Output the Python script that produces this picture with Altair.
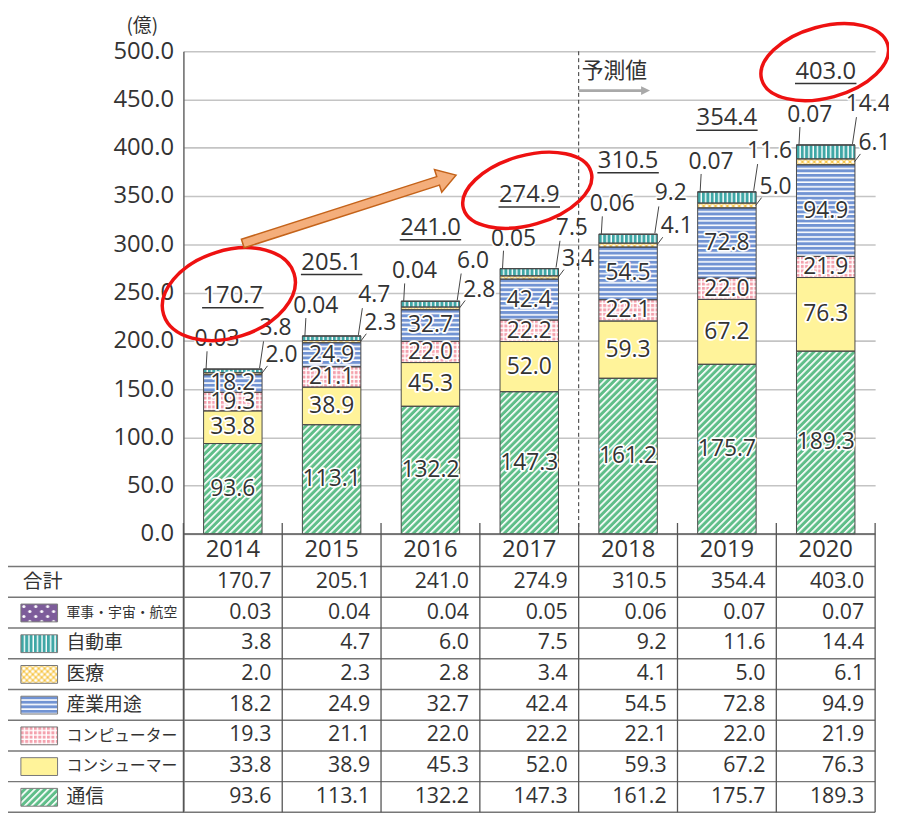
import base64
import altair as alt
import pandas as pd

# ---------------- data ----------------
years = ["2014", "2015", "2016", "2017", "2018", "2019", "2020"]

tsushin = [93.6, 113.1, 132.2, 147.3, 161.2, 175.7, 189.3]
consumer = [33.8, 38.9, 45.3, 52.0, 59.3, 67.2, 76.3]
computer = [19.3, 21.1, 22.0, 22.2, 22.1, 22.0, 21.9]
sangyo = [18.2, 24.9, 32.7, 42.4, 54.5, 72.8, 94.9]
iryo = [2.0, 2.3, 2.8, 3.4, 4.1, 5.0, 6.1]
jidosha = [3.8, 4.7, 6.0, 7.5, 9.2, 11.6, 14.4]
gunji = [0.03, 0.04, 0.04, 0.05, 0.06, 0.07, 0.07]
totals = [170.7, 205.1, 241.0, 274.9, 310.5, 354.4, 403.0]

series_names = ["通信", "コンシューマー", "コンピューター", "産業用途", "医療", "自動車", "軍事・宇宙・航空"]
series_values = [tsushin, consumer, computer, sangyo, iryo, jidosha, gunji]
decimals = [1, 1, 1, 1, 1, 1, 2]
table_order = ["合計", "軍事・宇宙・航空", "自動車", "医療", "産業用途", "コンピューター", "コンシューマー", "通信"]
y_ticks = [0, 50, 100, 150, 200, 250, 300, 350, 400, 450, 500]
highlight_years = ["2014", "2017", "2020"]
forecast_from = "2018"

# ---------------- styles ----------------
FONT_NUM = "Open Sans"
FONT_JP = "Noto Sans CJK JP"
TXT = "#333333"
W, H = 698, 767


def svg_url(inner):
    svg = ("<svg xmlns='http://www.w3.org/2000/svg' width='100%' height='100%'><defs>" + inner +
           "</defs><rect width='100%' height='100%' fill='url(#p)'/></svg>")
    return "data:image/svg+xml;base64," + base64.b64encode(svg.encode("utf-8")).decode("ascii")


patterns = {
    "通信": "<pattern id='p' patternUnits='userSpaceOnUse' width='4.8' height='4.8' patternTransform='rotate(45)'>"
            "<rect width='4.8' height='4.8' fill='#5fbe89'/><rect width='1.7' height='4.8' fill='#ffffff'/></pattern>",
    "コンシューマー": "<pattern id='p' patternUnits='userSpaceOnUse' width='4' height='4'>"
                "<rect width='4' height='4' fill='#fff39a'/></pattern>",
    "コンピューター": "<pattern id='p' patternUnits='userSpaceOnUse' width='4.4' height='4.4'>"
                "<rect width='4.4' height='4.4' fill='#ffffff'/><rect width='3' height='3' fill='#f4a2ae'/></pattern>",
    "産業用途": "<pattern id='p' patternUnits='userSpaceOnUse' width='6' height='4.6'>"
            "<rect width='6' height='4.6' fill='#7193d3'/><rect y='3' width='6' height='1.6' fill='#ffffff'/></pattern>",
    "医療": "<pattern id='p' patternUnits='userSpaceOnUse' width='6' height='6'>"
          "<rect width='6' height='6' fill='#f6c444'/>"
          "<circle cx='0' cy='0' r='1.8' fill='#fff'/><circle cx='6' cy='0' r='1.8' fill='#fff'/>"
          "<circle cx='0' cy='6' r='1.8' fill='#fff'/><circle cx='6' cy='6' r='1.8' fill='#fff'/>"
          "<circle cx='3' cy='3' r='1.8' fill='#fff'/></pattern>",
    "自動車": "<pattern id='p' patternUnits='userSpaceOnUse' width='4.4' height='6'>"
           "<rect width='4.4' height='6' fill='#3fa7a6'/><rect x='3' width='1.4' height='6' fill='#ffffff'/></pattern>",
    "軍事・宇宙・航空": "<pattern id='p' patternUnits='userSpaceOnUse' width='12' height='10'>"
                "<rect width='12' height='10' fill='#7d5c9a'/><circle cx='3' cy='2.5' r='1.6' fill='#fff'/>"
                "<circle cx='9' cy='7.5' r='1.6' fill='#fff'/></pattern>",
}
urls = {k: svg_url(v) for k, v in patterns.items()}
fallback = {"通信": "#8fd3ab", "コンシューマー": "#fff39a", "コンピューター": "#f8c4cb", "産業用途": "#97b0e0",
            "医療": "#f8d87e", "自動車": "#6fbdbc", "軍事・宇宙・航空": "#7d5c9a"}
label_sizes = {"合計": 20, "軍事・宇宙・航空": 14, "自動車": 19, "医療": 19, "産業用途": 19,
               "コンピューター": 16, "コンシューマー": 16, "通信": 19}

# ---------------- tables ----------------
rows = []
for k, (name, vals, dec) in enumerate(zip(series_names, series_values, decimals)):
    for yr, v in zip(years, vals):
        rows.append(dict(year=yr, cat=name, value=v, order=k, label=f"{v:.{dec}f}", url=urls[name]))
bars_df = pd.DataFrame(rows)
tot_df = pd.DataFrame({"year": years, "total": totals, "label": [f"{t:.1f}" for t in totals]})
gunji_df = tot_df.assign(label=[f"{v:.2f}" for v in gunji])
jido_df = tot_df.assign(label=[f"{v:.1f}" for v in jidosha])

trows = []
for i, name in enumerate(table_order):
    if name == "合計":
        vals, dec = totals, 1
    else:
        idx = series_names.index(name)
        vals, dec = series_values[idx], decimals[idx]
    for yr, v in zip(years, vals):
        trows.append(dict(i=i, year=yr, label=f"{v:.{dec}f}"))
table_df = pd.DataFrame(trows)
rowlab_df = pd.DataFrame({"i": list(range(len(table_order))), "name": table_order,
                          "fs": [label_sizes[n] for n in table_order]})
swatch_df = pd.DataFrame({"i": list(range(1, len(table_order))), "name": table_order[1:],
                          "url": [urls[n] for n in table_order[1:]]})

# ---------------- scales ----------------
ys = alt.Scale(domain=[-287.47, 500], nice=False, zero=False)
ts = alt.Scale(domain=[-16.774, 7.968], nice=False, zero=False, reverse=True)
xs = alt.Scale(domain=years, paddingInner=0, paddingOuter=0)
Xc = alt.X("year:N", scale=xs, axis=None)

yaxis = alt.Axis(values=y_ticks, format=".1f", grid=True, gridColor="#c4c4c4", gridWidth=1.6,
                 domainColor="#666666", domainWidth=1.5, ticks=False, labelPadding=10,
                 labelFont=FONT_NUM, labelFontSize=24, labelColor=TXT,
                 title="(億)", titleAngle=0, titleX=-42, titleY=-26, titleAlign="center",
                 titleBaseline="middle", titleFont=FONT_JP, titleFontSize=19,
                 titleFontWeight="normal", titleColor=TXT)


def Yv(f):
    return alt.Y(f, scale=ys, axis=yaxis)


def Yt(f):
    return alt.Y(f, scale=ts, axis=None)


def halo(chart, enc, **kw):
    p = dict(font=FONT_NUM, fontSize=23, color=TXT, baseline="middle", align="center")
    p.update(kw)
    return [chart.mark_text(stroke="white", strokeWidth=3.5, strokeJoin="round", **p).encode(**enc),
            chart.mark_text(**p).encode(**enc)]


def ellipse_path(a, b):
    k = 0.5523
    return (f"M{a},0 C{a},{k*b:.2f} {k*a:.2f},{b} 0,{b} C{-k*a:.2f},{b} {-a},{k*b:.2f} {-a},0 "
            f"C{-a},{-k*b:.2f} {-k*a:.2f},{-b} 0,{-b} C{k*a:.2f},{-b} {a},{-k*b:.2f} {a},0 Z")


stacked = alt.Chart(bars_df).transform_stack(
    stack="value", groupby=["year"], sort=[alt.SortField("order", order="ascending")], as_=["y0", "y1"])

L = []
L.append(stacked.mark_bar(width=59).encode(
    x=Xc, y=Yv("y0:Q"), y2="y1:Q",
    color=alt.Color("cat:N", scale=alt.Scale(domain=series_names, range=[fallback[n] for n in series_names]),
                    legend=None)))
L.append(stacked.mark_image(width=59, aspect=False).encode(x=Xc, y=Yv("y0:Q"), y2="y1:Q", url="url:N"))
L.append(stacked.mark_bar(width=59, fill="white", fillOpacity=0, stroke="#4a4a4a", strokeWidth=1).encode(
    x=Xc, y=Yv("y0:Q"), y2="y1:Q"))

# baseline
L.append(alt.Chart(pd.DataFrame({"z": [0]})).mark_rule(color="#5a5a5a", strokeWidth=1.5).encode(y=Yv("z:Q")))

# inner labels
inner = stacked.transform_filter(alt.FieldOneOfPredicate(field="cat", oneOf=series_names[:4])) \
    .transform_calculate(mid="(datum.y0 + datum.y1) / 2")
L += halo(inner, dict(x=Xc, y=Yv("mid:Q"), text="label:N"))

# 医療 label + leader
iry = stacked.transform_filter(alt.datum.cat == "医療").transform_calculate(mid="(datum.y0 + datum.y1) / 2")
L += halo(iry, dict(x=Xc, y=Yv("mid:Q"), text="label:N"), align="left", dx=33, dy=-19)
L.append(iry.mark_point(shape="M29,0L35,-8", size=4, filled=False, stroke="#444444", strokeWidth=1,
                        opacity=1).encode(x=Xc, y=Yv("mid:Q")))

# 軍事 label + leader
gch = alt.Chart(gunji_df)
L += halo(gch, dict(x=Xc, y=Yv("total:Q"), text="label:N"), dx=-16, dy=-30)
L.append(gch.mark_point(shape="M-27,0L-26,-18", size=4, filled=False, stroke="#444444", strokeWidth=1,
                        opacity=1).encode(x=Xc, y=Yv("total:Q")))

# 自動車 label + leader
jch = alt.Chart(jido_df)
L += halo(jch, dict(x=Xc, y=Yv("total:Q"), text="label:N"), dx=43, dy=-41)
L.append(jch.mark_point(shape="M27,-1L31,-28", size=4, filled=False, stroke="#444444", strokeWidth=1,
                        opacity=1).encode(x=Xc, y=Yv("total:Q")))

# totals with underline
tch = alt.Chart(tot_df)
L += halo(tch, dict(x=Xc, y=Yv("total:Q"), text="label:N"), dy=-74, fontSize=24)
L.append(tch.mark_point(shape="M-31,0L31,0", size=4, filled=False, stroke=TXT, strokeWidth=1.5,
                        opacity=1, yOffset=-62).encode(x=Xc, y=Yv("total:Q")))

# year labels
L.append(tch.mark_text(font=FONT_NUM, fontSize=24, color=TXT, baseline="middle", dy=16.5).encode(
    x=Xc, y=alt.Y(datum=0, scale=ys, axis=yaxis), text="year:N"))

# forecast marker
fdf = pd.DataFrame({"year": [forecast_from], "lo": [0], "hi": [500], "txt": ["予測値"]})
XF = alt.X("year:N", scale=xs, axis=None, bandPosition=0)
fch = alt.Chart(fdf)
L.append(fch.mark_rule(strokeDash=[4, 3], color="#333333", strokeWidth=1, y2Offset=-3).encode(
    x=XF, y=Yv("lo:Q"), y2="hi:Q"))
L.append(fch.mark_text(font=FONT_JP, fontSize=22, color=TXT, align="left", baseline="middle", dx=3,
                       dy=19.5).encode(x=XF, y=Yv("hi:Q"), text="txt:N"))
L.append(fch.mark_point(shape="M0,-1.4L63,-1.4L63,-4.5L72,0L63,4.5L63,1.4L0,1.4Z", size=4, filled=True,
                        fill="#a9a9a9", strokeWidth=0, opacity=1, yOffset=39.7).encode(x=XF, y=Yv("hi:Q")))

# red ellipses
ell = {"2014": (69, 44, 342.4, -4, -75.7), "2017": (67, 35, 344, -2, -79), "2020": (66, 36, 344.7, -1, -83.5)}
for yr in highlight_years:
    a, b, ang, ox, oy = ell[yr]
    L.append(tch.transform_filter(alt.datum.year == yr).mark_point(
        shape=ellipse_path(a, b), size=4, filled=False, stroke="#ee1111", strokeWidth=3.5, opacity=1,
        angle=ang, xOffset=ox, yOffset=oy).encode(x=Xc, y=Yv("total:Q")))

# orange arrow
L.append(alt.Chart(pd.DataFrame({"k": [0]})).mark_point(
    shape="M-113,-4.5L94,-4.5L94,-12L113,0L94,12L94,4.5L-113,4.5Z", size=4, filled=True,
    fill="#f4ae7b", stroke="#c4631a", strokeWidth=1.5, opacity=1, angle=342.2).encode(
    x=alt.value(167.5), y=alt.value(159.5)))

# ---------------- table ----------------
T = []
T.append(alt.Chart(pd.DataFrame({"b": list(range(len(table_order) + 1))})).mark_rule(
    color="#777777", strokeWidth=1.5).encode(y=Yt("b:Q"), x=alt.value(-178), x2=alt.value(W)))
T.append(alt.Chart(pd.DataFrame({"t": [0], "u": [8]})).mark_rule(color="#555555", strokeWidth=1.3).encode(
    x=alt.value(-178), y=Yt("t:Q"), y2="u:Q"))
sep = alt.Chart(pd.DataFrame({"year": years})).transform_calculate(t="-1.42", u="8")
T.append(sep.mark_rule(color="#555555", strokeWidth=1.3).encode(
    x=alt.X("year:N", scale=xs, axis=None, bandPosition=0), y=Yt("t:Q"), y2="u:Q"))
T.append(sep.transform_filter(alt.datum.year == years[-1]).mark_rule(color="#555555", strokeWidth=1.3).encode(
    x=alt.X("year:N", scale=xs, axis=None, bandPosition=1), y=Yt("t:Q"), y2="u:Q"))

tbl = alt.Chart(table_df).transform_calculate(yc="datum.i + 0.5")
T.append(tbl.mark_text(font=FONT_NUM, fontSize=21.5, color=TXT, align="right", baseline="middle", dx=-11).encode(
    x=alt.X("year:N", scale=xs, axis=None, bandPosition=1), y=Yt("yc:Q"), text="label:N"))

rl = alt.Chart(rowlab_df).transform_calculate(yc="datum.i + 0.5")
T.append(rl.transform_filter(alt.datum.i == 0).mark_text(font=FONT_JP, color=TXT, align="left",
                                                       baseline="middle").encode(
    x=alt.value(-162), y=Yt("yc:Q"), text="name:N", size=alt.Size("fs:Q", scale=None)))
T.append(rl.transform_filter(alt.datum.i > 0).mark_text(font=FONT_JP, color=TXT, align="left",
                                                      baseline="middle").encode(
    x=alt.value(-118), y=Yt("yc:Q"), text="name:N", size=alt.Size("fs:Q", scale=None)))

sw = alt.Chart(swatch_df).transform_calculate(a="datum.i + 0.22", b="datum.i + 0.8")
T.append(sw.mark_image(aspect=False).encode(x=alt.value(-164), x2=alt.value(-127), y=Yt("a:Q"), y2="b:Q",
                                            url="url:N"))
T.append(sw.mark_rect(fill="white", fillOpacity=0, stroke="#777777", strokeWidth=1).encode(
    x=alt.value(-164), x2=alt.value(-127), y=Yt("a:Q"), y2="b:Q"))

chart = alt.layer(alt.layer(*L), alt.layer(*T)).resolve_scale(y="independent").properties(
    width=W, height=H,
    padding={"left": 177, "top": 40, "right": 14, "bottom": 0},
    autosize=alt.AutoSizeParams(type="none"),
    background="white",
).configure_view(strokeWidth=0)

chart.save("out.html", embed_options={"renderer": "svg", "actions": False})
